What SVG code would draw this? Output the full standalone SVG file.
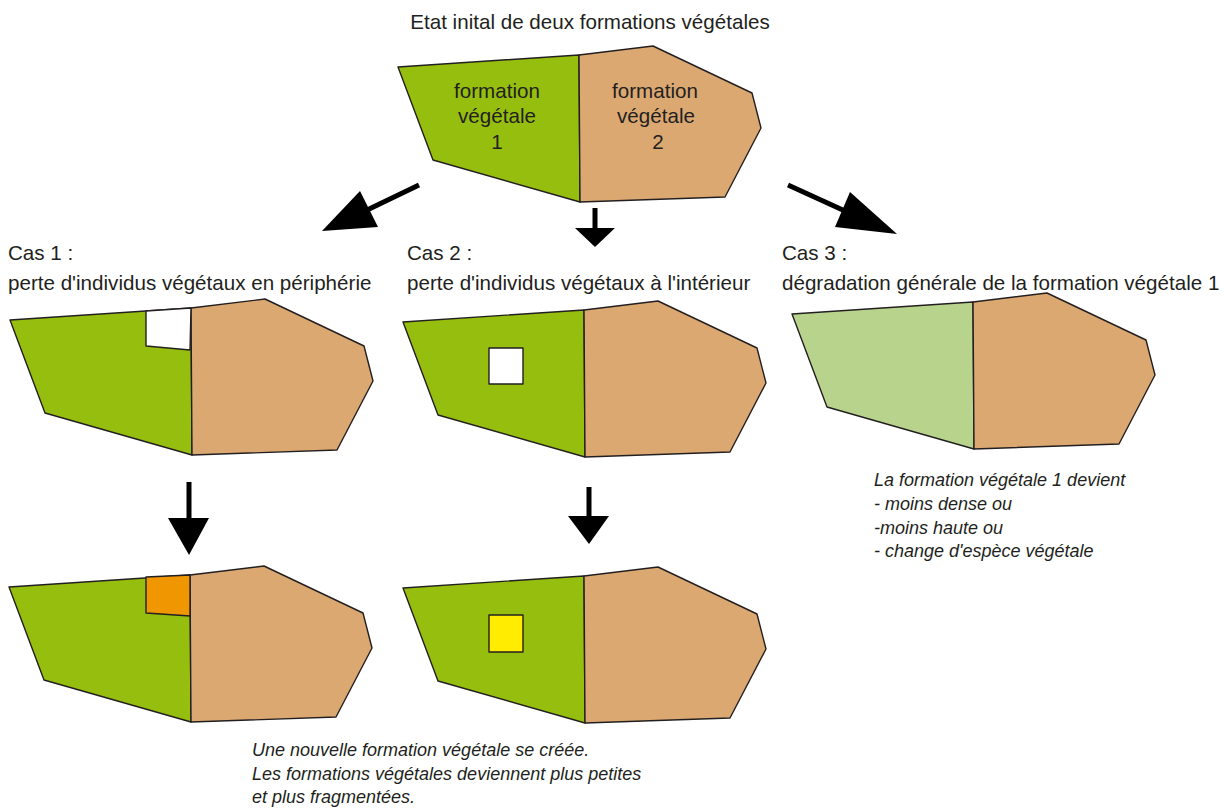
<svg xmlns="http://www.w3.org/2000/svg" width="1227" height="810" viewBox="0 0 1227 810">
<style>
.t{font-family:"Liberation Sans",Arial,sans-serif;font-size:20.6px;fill:#231f20}
.i{font-family:"Liberation Sans",Arial,sans-serif;font-size:18px;font-style:italic;fill:#231f20}
.c{text-anchor:middle}
.g{fill:#96be0e;stroke:#231f20;stroke-width:1.4;stroke-linejoin:round}
.lg{fill:#b8d48c;stroke:#231f20;stroke-width:1.4;stroke-linejoin:round}
.tan{fill:#dba872;stroke:#231f20;stroke-width:1.4;stroke-linejoin:round}
.sq{stroke:#231f20;stroke-width:1.4;stroke-linejoin:round}
.sh{stroke:#000;stroke-width:5;fill:none}
.hd{fill:#000}
</style>
<defs>
<polygon id="pg" points="0,0 181,-12 182,135 35,93"/>
<polygon id="pt" points="181,-12 255,-21 354,26 363,61 327,130 182,135"/>
</defs>
<rect width="1227" height="810" fill="#fff"/>
<text class="t c" x="590" y="29">Etat inital de deux formations végétales</text>

<g id="initial" transform="translate(398,67)">
<use href="#pg" class="g"/>
<use href="#pt" class="tan"/>
<text class="t c" x="99" y="31">formation</text>
<text class="t c" x="99" y="56">végétale</text>
<text class="t c" x="99" y="82">1</text>
<text class="t c" x="257" y="31">formation</text>
<text class="t c" x="258" y="56">végétale</text>
<text class="t c" x="260" y="82">2</text>
</g>

<g id="cas1">
<text class="t" x="8" y="260">Cas 1 :</text>
<text class="t" x="8" y="290">perte d'individus végétaux en périphérie</text>
<g transform="translate(10,320)">
<use href="#pg" class="g"/>
<use href="#pt" class="tan"/>
<polygon class="sq" fill="#fff" points="136,-9 181,-12 180,30 136,26"/>
</g>
</g>

<g id="cas2">
<text class="t" x="407" y="260">Cas 2 :</text>
<text class="t" x="407" y="290">perte d'individus végétaux à l'intérieur</text>
<g transform="translate(403,322)">
<use href="#pg" class="g"/>
<use href="#pt" class="tan"/>
<rect class="sq" fill="#fff" x="86" y="26" width="34" height="36"/>
</g>
</g>

<g id="cas3">
<text class="t" x="782" y="260">Cas 3 :</text>
<text class="t" x="782" y="290">dégradation générale de la formation végétale 1</text>
<g transform="translate(792,314)">
<use href="#pg" class="lg"/>
<use href="#pt" class="tan"/>
</g>
<text class="i" x="874" y="486">La formation végétale 1 devient</text>
<text class="i" x="874" y="510">- moins dense ou</text>
<text class="i" x="874" y="534">-moins haute ou</text>
<text class="i" x="874" y="557">- change d'espèce végétale</text>
</g>

<g id="cas1-result" transform="translate(9,587)">
<use href="#pg" class="g"/>
<use href="#pt" class="tan"/>
<polygon class="sq" fill="#f09600" points="137,-10 181,-12 181,29 137,26"/>
</g>

<g id="cas2-result" transform="translate(403,588)">
<use href="#pg" class="g"/>
<use href="#pt" class="tan"/>
<rect class="sq" fill="#ffec00" x="86" y="27" width="34" height="37"/>
</g>

<g id="note-bottom">
<text class="i" x="252" y="756">Une nouvelle formation végétale se créée.</text>
<text class="i" x="252" y="780">Les formations végétales deviennent plus petites</text>
<text class="i" x="252" y="803">et plus fragmentées.</text>
</g>

<g id="connectors">
<line class="sh" x1="419" y1="185" x2="365" y2="211"/>
<polygon class="hd" points="360,191 378,227 322,231"/>
<line class="sh" x1="595" y1="208" x2="595" y2="229"/>
<polygon class="hd" points="575,228 615,228 595,247"/>
<line class="sh" x1="788" y1="185" x2="845" y2="211"/>
<polygon class="hd" points="850,192 835,227 897,234"/>
<line class="sh" x1="189" y1="482" x2="189" y2="519"/>
<polygon class="hd" points="168,518 209,518 189,555"/>
<line class="sh" x1="589" y1="487" x2="589" y2="517"/>
<polygon class="hd" points="568,516 609,516 589,544"/>
</g>
</svg>
